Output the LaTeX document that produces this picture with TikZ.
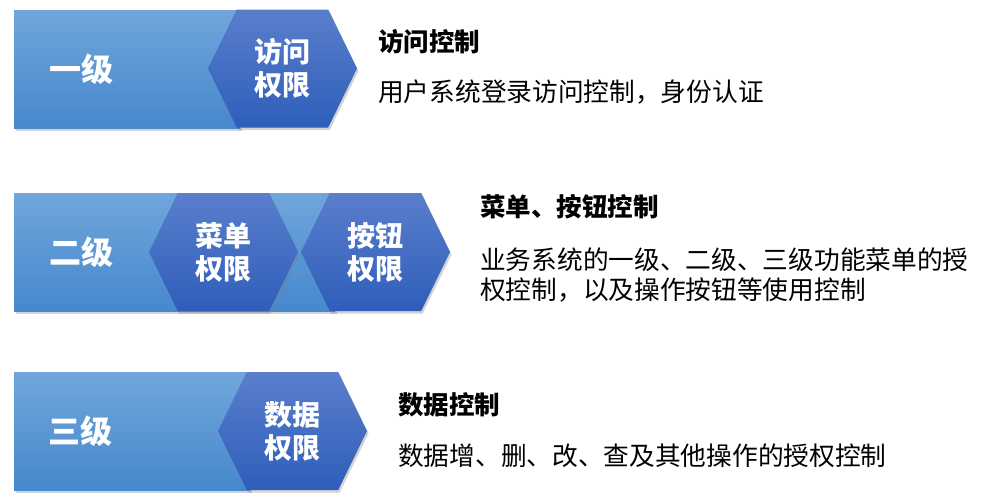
\documentclass[tikz,border=0pt]{standalone}
\usepackage{fontspec}
\setmainfont{Noto Sans CJK SC}
\usetikzlibrary{shapes.symbols,shadows}
\definecolor{bartop}{RGB}{112,166,220}
\definecolor{barbot}{RGB}{70,136,204}
\definecolor{hextop}{RGB}{90,126,204}
\definecolor{hexbot}{RGB}{46,94,186}
\tikzset{
  levelbar/.style={rectangle, inner sep=0pt, minimum height=118pt,
    top color=bartop, bottom color=barbot,
    drop shadow={shadow xshift=1.5pt, shadow yshift=-2.5pt, opacity=.35}},
  rightshex/.style={signal, signal to=east and west, signal pointer angle=128,
    inner sep=0pt, minimum width=149pt, minimum height=118pt,
    top color=hextop, bottom color=hexbot, text=white, align=center,
    font=\fontsize{28}{33}\selectfont\bfseries,
    drop shadow={shadow xshift=1.5pt, shadow yshift=-2.5pt, opacity=.35}},
  levelname/.style={text=white, font=\fontsize{32}{36}\selectfont\bfseries},
  itemhead/.style={anchor=west, inner sep=0pt, font=\fontsize{25.5}{30}\selectfont\bfseries},
  itemtext/.style={anchor=west, inner sep=0pt, align=left, font=\fontsize{25.7}{30}\selectfont},
}
\begin{document}
\begin{tikzpicture}[x=1pt,y=-1pt]
  \useasboundingbox (0,0) rectangle (995,499);
  % level one
  \node[levelbar, minimum width=226pt] (bar1) at (127,69) {};
  \node[levelname] (lv1) at (81,69) {一级};
  \node[rightshex] (hexvisit) at (282.5,68.5) {访问\\权限};
  \node[itemhead] (head1) at (378,42) {访问控制};
  \node[itemtext] (text1) at (378,92) {用户系统登录访问控制，身份认证};
  % level two
  \node[levelbar, minimum width=321pt] (bar2) at (174.5,252) {};
  \node[levelname] (lv2) at (81,252) {二级};
  \node[rightshex] (hexmenu) at (223.5,252) {菜单\\权限};
  \node[rightshex] (hexbutton) at (375.5,252) {按钮\\权限};
  \node[itemhead] (head2) at (480,207) {菜单、按钮控制};
  \node[itemtext] (text2) at (480,275) {业务系统的一级、二级、三级功能菜单的授\\权控制，以及操作按钮等使用控制};
  % level three
  \node[levelbar, minimum width=236pt] (bar3) at (132,431) {};
  \node[levelname] (lv3) at (80,431) {三级};
  \node[rightshex] (hexdata) at (292.5,431) {数据\\权限};
  \node[itemhead] (head3) at (398,405) {数据控制};
  \node[itemtext] (text3) at (398,456) {数据增、删、改、查及其他操作的授权控制};
\end{tikzpicture}
\end{document}
